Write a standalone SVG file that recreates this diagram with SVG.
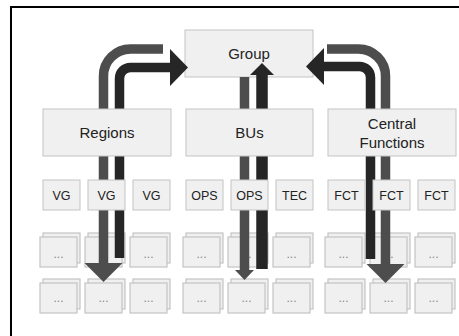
<svg xmlns="http://www.w3.org/2000/svg" width="459" height="336" viewBox="0 0 459 336">
<style>
.bx{fill:#f0f0f0;stroke:#c4c4c4;stroke-width:1}
.eb{fill:#f0f0f0;stroke:#c4c4c4;stroke-width:1.2}
.t{font-family:"Liberation Sans",Arial,sans-serif;fill:#222;text-anchor:middle}
.big{font-size:15px}
.sm{font-size:12.5px}
.el{font-family:"Liberation Sans",Arial,sans-serif;font-size:12px;fill:#888;text-anchor:middle}
.g{fill:none;stroke:#4d4d4d;stroke-width:9.5}
.d{fill:none;stroke:#262626;stroke-width:9.5}
.gh{fill:#4d4d4d}
.dh{fill:#262626}
</style>
<rect x="0" y="0" width="459" height="336" fill="#fff"/>
<path d="M11,400 V7 H480" fill="none" stroke="#000" stroke-width="2"/>
<defs>
<g id="stack">
<rect class="eb" x="0" y="0" width="37" height="30"/>
<rect class="eb" x="-3" y="4" width="37" height="30"/>
</g>
</defs>
<g id="items">
<g id="r1c1"><use href="#stack" x="43" y="233"/><text class="el" x="58.5" y="257.5">...</text></g>
<g id="r1c2"><use href="#stack" x="88" y="233"/><text class="el" x="103.5" y="257.5">...</text></g>
<g id="r1c3"><use href="#stack" x="133" y="233"/><text class="el" x="148.5" y="257.5">...</text></g>
<g id="r1c4"><use href="#stack" x="186" y="233"/><text class="el" x="201.5" y="257.5">...</text></g>
<g id="r1c5"><use href="#stack" x="231" y="233"/><text class="el" x="246.5" y="257.5">...</text></g>
<g id="r1c6"><use href="#stack" x="276" y="233"/><text class="el" x="291.5" y="257.5">...</text></g>
<g id="r1c7"><use href="#stack" x="328" y="233"/><text class="el" x="343.5" y="257.5">...</text></g>
<g id="r1c8"><use href="#stack" x="373" y="233"/><text class="el" x="388.5" y="257.5">...</text></g>
<g id="r1c9"><use href="#stack" x="418" y="233"/><text class="el" x="433.5" y="257.5">...</text></g>
<g id="r2c1"><use href="#stack" x="43" y="279"/><text class="el" x="58.5" y="302">...</text></g>
<g id="r2c2"><use href="#stack" x="88" y="279"/><text class="el" x="103.5" y="302">...</text></g>
<g id="r2c3"><use href="#stack" x="133" y="279"/><text class="el" x="148.5" y="302">...</text></g>
<g id="r2c4"><use href="#stack" x="186" y="279"/><text class="el" x="201.5" y="302">...</text></g>
<g id="r2c5"><use href="#stack" x="231" y="279"/><text class="el" x="246.5" y="302">...</text></g>
<g id="r2c6"><use href="#stack" x="276" y="279"/><text class="el" x="291.5" y="302">...</text></g>
<g id="r2c7"><use href="#stack" x="328" y="279"/><text class="el" x="343.5" y="302">...</text></g>
<g id="r2c8"><use href="#stack" x="373" y="279"/><text class="el" x="388.5" y="302">...</text></g>
<g id="r2c9"><use href="#stack" x="418" y="279"/><text class="el" x="433.5" y="302">...</text></g>
</g>
<g id="group"><rect class="bx" x="185" y="30" width="128" height="47"/><text class="t big" x="249" y="59">Group</text></g>
<g id="connectors">
<path class="g" d="M163,49 H130.5 A27,27 0 0 0 103.5,76 V264"/>
<polygon class="gh" points="84.5,263 122.5,263 103.5,282"/>
<path class="d" d="M119.5,258 V78.5 A11,11 0 0 1 130.5,67.5 H171"/>
<polygon class="dh" points="170,49 170,86 188,67.5"/>
<path class="g" d="M244.5,77 V271"/>
<polygon class="gh" points="235,270 254,270 244.5,280"/>
<path class="d" d="M262,269 V74" style="stroke-width:11.5"/>
<polygon class="dh" points="250,75 274,75 262,63"/>
<path class="g" d="M327,49 H358.5 A27,27 0 0 1 385.5,76 V265"/>
<polygon class="gh" points="366.5,264 404.5,264 385.5,283"/>
<path class="d" d="M370.5,259 V77.5 A11,11 0 0 0 359.5,66.5 H323"/>
<polygon class="dh" points="324,48 324,85 306,66.5"/>
</g>
<g id="regions"><rect class="bx" x="43" y="109" width="128" height="47"/><text class="t big" x="107" y="138">Regions</text></g>
<g id="bus"><rect class="bx" x="186" y="109" width="127" height="47"/><text class="t big" x="249.5" y="138">BUs</text></g>
<g id="central"><rect class="bx" x="328" y="109" width="128" height="47"/><text class="t big" x="392" y="129">Central</text><text class="t big" x="392" y="147.5">Functions</text></g>
<g id="vg1"><rect class="bx" x="43" y="180" width="37" height="30"/><text class="t sm" x="61.5" y="199.5">VG</text></g>
<g id="vg2"><rect class="bx" x="88" y="180" width="37" height="30"/><text class="t sm" x="106.5" y="199.5">VG</text></g>
<g id="vg3"><rect class="bx" x="133" y="180" width="37" height="30"/><text class="t sm" x="151.5" y="199.5">VG</text></g>
<g id="ops1"><rect class="bx" x="186" y="180" width="37" height="30"/><text class="t sm" x="204.5" y="199.5">OPS</text></g>
<g id="ops2"><rect class="bx" x="231" y="180" width="37" height="30"/><text class="t sm" x="249.5" y="199.5">OPS</text></g>
<g id="tec"><rect class="bx" x="276" y="180" width="37" height="30"/><text class="t sm" x="294.5" y="199.5">TEC</text></g>
<g id="fct1"><rect class="bx" x="328" y="180" width="37" height="30"/><text class="t sm" x="346.5" y="199.5">FCT</text></g>
<g id="fct2"><rect class="bx" x="373" y="180" width="37" height="30"/><text class="t sm" x="391.5" y="199.5">FCT</text></g>
<g id="fct3"><rect class="bx" x="418" y="180" width="37" height="30"/><text class="t sm" x="436.5" y="199.5">FCT</text></g>
</svg>
